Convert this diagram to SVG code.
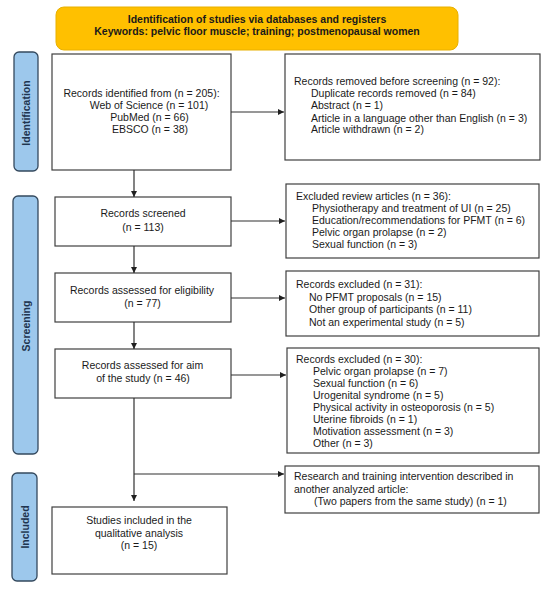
<svg xmlns="http://www.w3.org/2000/svg" width="550" height="590" viewBox="0 0 550 590">
<defs>
<style>
.t{font-family:"Liberation Sans",Arial,sans-serif;font-size:10.5px;fill:#1a1a1a}
.c{text-anchor:middle}
.b{font-weight:bold}
.box{fill:#fff;stroke:#404040;stroke-width:1.2}
.side{fill:#9dc8ec;stroke:#34495e;stroke-width:1.3}
.sl{font-family:"Liberation Sans",Arial,sans-serif;font-size:10.5px;font-weight:bold;fill:#1f3550;text-anchor:middle}
.ln{stroke:#303030;stroke-width:1.2;fill:none}
</style>
<marker id="ah" viewBox="0 0 10 10" refX="10" refY="5" markerWidth="6" markerHeight="6" markerUnits="userSpaceOnUse" orient="auto">
<path d="M0,0 L10,5 L0,10 z" fill="#202020"/>
</marker>
</defs>
<rect width="550" height="590" fill="#fff"/>

<g id="banner">
<rect x="56" y="7" width="402" height="43" rx="8" fill="#ffc000" stroke="#e8b000" stroke-width="1"/>
<text class="t b c" x="257" y="22.5">Identification of studies via databases and registers</text>
<text class="t b c" x="257" y="35">Keywords: pelvic floor muscle; training; postmenopausal women</text>
</g>

<g id="side-identification">
<rect class="side" x="14" y="52" width="24" height="119" rx="5"/>
<text class="sl" transform="translate(30,113) rotate(-90)">Identification</text>
</g>
<g id="side-screening">
<rect class="side" x="13" y="196" width="25" height="258" rx="5"/>
<text class="sl" transform="translate(29.5,326) rotate(-90)">Screening</text>
</g>
<g id="side-included">
<rect class="side" x="12" y="473" width="25" height="108" rx="5"/>
<text class="sl" transform="translate(28.5,527) rotate(-90)">Included</text>
</g>

<g id="identified">
<rect class="box" x="52" y="54" width="179" height="116"/>
<text class="t c" x="141.5" y="97">Records identified from (n = 205):</text>
<text class="t c" x="149" y="109">Web of Science (n = 101)</text>
<text class="t c" x="149.5" y="121">PubMed (n = 66)</text>
<text class="t c" x="150" y="133">EBSCO (n = 38)</text>
</g>

<g id="removed">
<rect class="box" x="285" y="54" width="255" height="106"/>
<text class="t" x="294" y="85">Records removed before screening (n = 92):</text>
<text class="t" x="311" y="97">Duplicate records removed  (n = 84)</text>
<text class="t" x="311" y="109">Abstract (n = 1)</text>
<text class="t" x="311" y="121.5">Article in a language other than English (n = 3)</text>
<text class="t" x="311" y="133">Article withdrawn (n = 2)</text>
</g>

<g id="screened">
<rect class="box" x="55" y="197" width="176" height="49"/>
<text class="t c" x="143" y="217">Records screened</text>
<text class="t c" x="143" y="231">(n = 113)</text>
</g>

<g id="excluded-review">
<rect class="box" x="286" y="184" width="253" height="74"/>
<text class="t" x="296" y="200">Excluded review articles (n = 36):</text>
<text class="t" x="312" y="211.5">Physiotherapy and treatment of UI (n = 25)</text>
<text class="t" x="312" y="223.5">Education/recommendations for PFMT (n = 6)</text>
<text class="t" x="312" y="235.5">Pelvic organ prolapse (n = 2)</text>
<text class="t" x="312" y="247.5">Sexual function (n = 3)</text>
</g>

<g id="eligibility">
<rect class="box" x="55" y="273" width="176" height="49"/>
<text class="t c" x="142" y="294">Records assessed for eligibility</text>
<text class="t c" x="142.5" y="307">(n = 77)</text>
</g>

<g id="excluded-31">
<rect class="box" x="286" y="271" width="253" height="65"/>
<text class="t" x="296" y="288">Records excluded (n = 31):</text>
<text class="t" x="309" y="300.5">No PFMT proposals (n = 15)</text>
<text class="t" x="309" y="313">Other group of participants (n = 11)</text>
<text class="t" x="309" y="325.5">Not an experimental study (n = 5)</text>
</g>

<g id="aim">
<rect class="box" x="55" y="349" width="176" height="49"/>
<text class="t c" x="142.5" y="369">Records assessed for aim</text>
<text class="t c" x="143" y="382">of the study (n = 46)</text>
</g>

<g id="excluded-30">
<rect class="box" x="287" y="348" width="252" height="105"/>
<text class="t" x="296" y="363">Records excluded (n = 30):</text>
<text class="t" x="313" y="375">Pelvic organ prolapse (n = 7)</text>
<text class="t" x="313" y="386.5">Sexual function (n = 6)</text>
<text class="t" x="313" y="398.5">Urogenital syndrome (n = 5)</text>
<text class="t" x="313" y="411">Physical activity in osteoporosis (n = 5)</text>
<text class="t" x="313" y="422.5">Uterine fibroids (n = 1)</text>
<text class="t" x="313" y="435">Motivation assessment (n = 3)</text>
<text class="t" x="313" y="447">Other (n = 3)</text>
</g>

<g id="same-study">
<rect class="box" x="285" y="466" width="254" height="47"/>
<text class="t" x="294" y="480">Research and training intervention described in</text>
<text class="t" x="294" y="492.5">another analyzed article:</text>
<text class="t" x="314" y="505">(Two papers from the same study) (n = 1)</text>
</g>

<g id="included">
<rect class="box" x="52" y="507" width="175" height="67"/>
<text class="t c" x="139" y="524">Studies included in the</text>
<text class="t c" x="139" y="537">qualitative analysis</text>
<text class="t c" x="139" y="549">(n = 15)</text>
</g>

<g id="connectors">
<line class="ln" x1="231" y1="112" x2="284" y2="112" marker-end="url(#ah)"/>
<line class="ln" x1="134" y1="170" x2="134" y2="197" marker-end="url(#ah)"/>
<line class="ln" x1="231" y1="221" x2="285" y2="221" marker-end="url(#ah)"/>
<line class="ln" x1="134" y1="246" x2="134" y2="273" marker-end="url(#ah)"/>
<line class="ln" x1="231" y1="298" x2="285" y2="298" marker-end="url(#ah)"/>
<line class="ln" x1="134" y1="322" x2="134" y2="349" marker-end="url(#ah)"/>
<line class="ln" x1="231" y1="375" x2="286" y2="375" marker-end="url(#ah)"/>
<line class="ln" x1="134" y1="398" x2="134" y2="501" marker-end="url(#ah)"/>
<line class="ln" x1="134" y1="474" x2="284" y2="474" marker-end="url(#ah)"/>
</g>
</svg>
